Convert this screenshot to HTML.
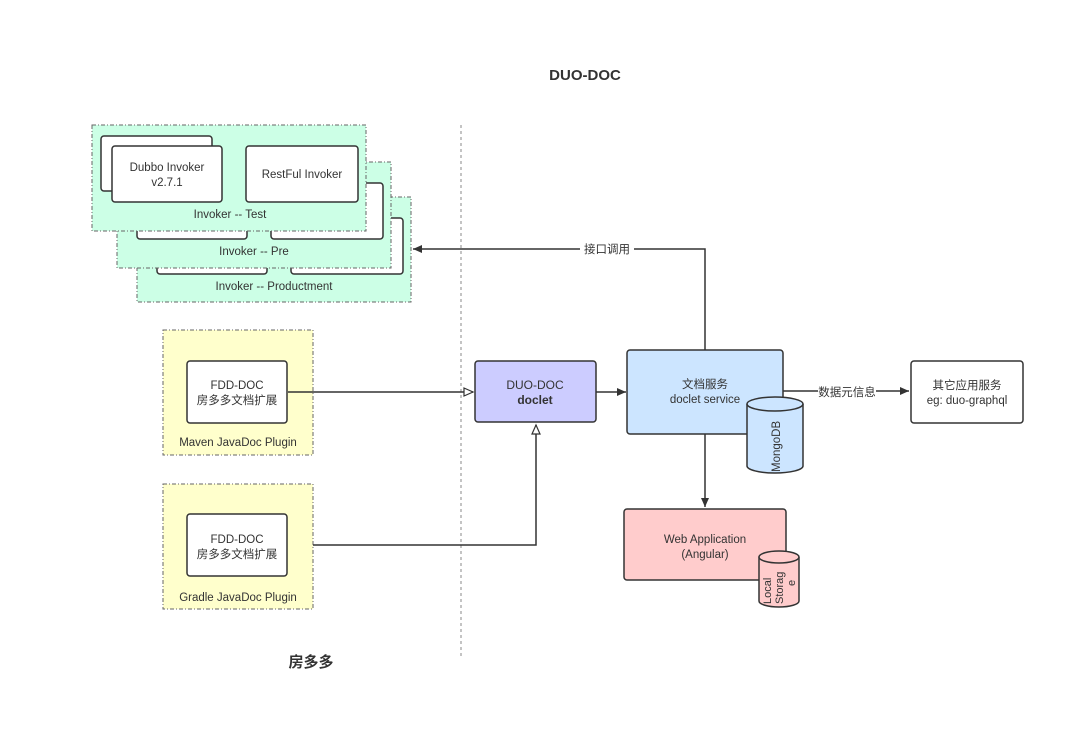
<!DOCTYPE html>
<html><head><meta charset="utf-8"><style>
html,body{margin:0;padding:0;background:#fff;width:1080px;height:734px;overflow:hidden}
svg{display:block}
text{font-family:"Liberation Sans","Noto Sans CJK SC",sans-serif;fill:#333;font-size:11.5px}
</style></head><body>
<svg width="1080" height="734" viewBox="0 0 1080 734" xmlns="http://www.w3.org/2000/svg">
<defs>
<marker id="fa" markerWidth="10" markerHeight="10" refX="9" refY="5" orient="auto" markerUnits="userSpaceOnUse"><path d="M0,1 L9,5 L0,9 z" fill="#333"/></marker>
<marker id="oa" markerWidth="12" markerHeight="10" refX="10" refY="5" orient="auto" markerUnits="userSpaceOnUse"><path d="M1,1 L10,5 L1,9 z" fill="#fff" stroke="#333" stroke-width="1.2"/></marker>
</defs>
<text x="585" y="80" text-anchor="middle" style="font-size:15px;font-weight:bold">DUO-DOC</text>
<line x1="461" y1="125" x2="461" y2="658" stroke="#888" stroke-dasharray="3,3"/>

<!-- Production -->
<rect x="137" y="197" width="274" height="105" fill="#ccffe6" stroke="#666" stroke-dasharray="4,2,1,2"/>
<rect x="157" y="218" width="110" height="56" rx="3" fill="#fff" stroke="#333" stroke-width="1.5"/>
<rect x="291" y="218" width="112" height="56" rx="3" fill="#fff" stroke="#333" stroke-width="1.5"/>
<text x="274" y="290" text-anchor="middle">Invoker -- Productment</text>
<!-- Pre -->
<rect x="117" y="162" width="274" height="106" fill="#ccffe6" stroke="#666" stroke-dasharray="4,2,1,2"/>
<rect x="137" y="183" width="110" height="56" rx="3" fill="#fff" stroke="#333" stroke-width="1.5"/>
<rect x="271" y="183" width="112" height="56" rx="3" fill="#fff" stroke="#333" stroke-width="1.5"/>
<text x="254" y="255" text-anchor="middle">Invoker -- Pre</text>
<!-- Test -->
<rect x="92" y="125" width="274" height="106" fill="#ccffe6" stroke="#666" stroke-dasharray="4,2,1,2"/>
<rect x="101" y="136" width="111" height="55" rx="3" fill="#fff" stroke="#333" stroke-width="1.5"/>
<rect x="112" y="146" width="110" height="56" rx="3" fill="#fff" stroke="#333" stroke-width="1.5"/>
<text x="167" y="171" text-anchor="middle">Dubbo Invoker</text>
<text x="167" y="186" text-anchor="middle">v2.7.1</text>
<rect x="246" y="146" width="112" height="56" rx="3" fill="#fff" stroke="#333" stroke-width="1.5"/>
<text x="302" y="178" text-anchor="middle">RestFul Invoker</text>
<text x="230" y="218" text-anchor="middle">Invoker -- Test</text>

<!-- arrow from service to invokers -->
<polyline points="705,350 705,249 413,249" fill="none" stroke="#333" stroke-width="1.5" marker-end="url(#fa)"/>
<rect x="580" y="242" width="54" height="14" fill="#fff"/>
<text x="607" y="253" text-anchor="middle">接口调用</text>

<!-- Maven -->
<rect x="163" y="330" width="150" height="125" fill="#ffffcc" stroke="#666" stroke-dasharray="4,2,1,2"/>
<rect x="187" y="361" width="100" height="62" rx="3" fill="#fff" stroke="#333" stroke-width="1.5"/>
<text x="237" y="389" text-anchor="middle">FDD-DOC</text>
<text x="237" y="404" text-anchor="middle">房多多文档扩展</text>
<text x="238" y="446" text-anchor="middle">Maven JavaDoc Plugin</text>
<!-- Gradle -->
<rect x="163" y="484" width="150" height="125" fill="#ffffcc" stroke="#666" stroke-dasharray="4,2,1,2"/>
<rect x="187" y="514" width="100" height="62" rx="3" fill="#fff" stroke="#333" stroke-width="1.5"/>
<text x="237" y="543" text-anchor="middle">FDD-DOC</text>
<text x="237" y="558" text-anchor="middle">房多多文档扩展</text>
<text x="238" y="601" text-anchor="middle">Gradle JavaDoc Plugin</text>

<line x1="288" y1="392" x2="473" y2="392" stroke="#333" stroke-width="1.5" marker-end="url(#oa)"/>
<polyline points="313,545 536,545 536,425" fill="none" stroke="#333" stroke-width="1.5" marker-end="url(#oa)"/>

<!-- doclet -->
<rect x="475" y="361" width="121" height="61" rx="3" fill="#ccccff" stroke="#333" stroke-width="1.5"/>
<text x="535" y="389" text-anchor="middle" style="font-size:12px">DUO-DOC</text>
<text x="535" y="404" text-anchor="middle" style="font-size:12px;font-weight:bold">doclet</text>
<line x1="596" y1="392" x2="626" y2="392" stroke="#333" stroke-width="1.5" marker-end="url(#fa)"/>

<!-- service -->
<rect x="627" y="350" width="156" height="84" rx="3" fill="#cce5ff" stroke="#333" stroke-width="1.5"/>
<text x="705" y="388" text-anchor="middle">文档服务</text>
<text x="705" y="403" text-anchor="middle">doclet service</text>
<path d="M747,404 L747,466 A28,7 0 0 0 803,466 L803,404" fill="#cce5ff" stroke="#333" stroke-width="1.5"/>
<ellipse cx="775" cy="404" rx="28" ry="7" fill="#cce5ff" stroke="#333" stroke-width="1.5"/>
<text transform="translate(780,472) rotate(-90)" style="font-size:11.5px">MongoDB</text>

<line x1="783" y1="391" x2="909" y2="391" stroke="#333" stroke-width="1.5" marker-end="url(#fa)"/>
<rect x="818" y="384" width="58" height="14" fill="#fff"/>
<text x="847" y="396" text-anchor="middle">数据元信息</text>
<rect x="911" y="361" width="112" height="62" rx="3" fill="#fff" stroke="#333" stroke-width="1.5"/>
<text x="967" y="389" text-anchor="middle">其它应用服务</text>
<text x="967" y="404" text-anchor="middle">eg: duo-graphql</text>

<line x1="705" y1="434" x2="705" y2="507" stroke="#333" stroke-width="1.5" marker-end="url(#fa)"/>
<rect x="624" y="509" width="162" height="71" rx="3" fill="#ffcccc" stroke="#333" stroke-width="1.5"/>
<text x="705" y="543" text-anchor="middle">Web Application</text>
<text x="705" y="558" text-anchor="middle">(Angular)</text>
<path d="M759,557 L759,601 A20,6 0 0 0 799,601 L799,557" fill="#ffcccc" stroke="#333" stroke-width="1.5"/>
<ellipse cx="779" cy="557" rx="20" ry="6" fill="#ffcccc" stroke="#333" stroke-width="1.5"/>
<text transform="translate(771,604) rotate(-90)" style="font-size:11px">Local</text>
<text transform="translate(783,604) rotate(-90)" style="font-size:11px">Storag</text>
<text transform="translate(795,586) rotate(-90)" style="font-size:11px">e</text>

<text x="311" y="667" text-anchor="middle" style="font-size:15px;font-weight:bold">房多多</text>
</svg>
</body></html>
